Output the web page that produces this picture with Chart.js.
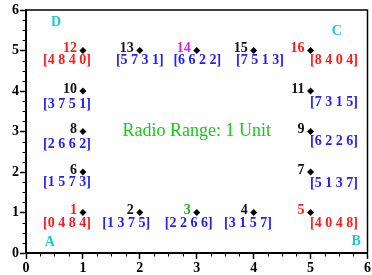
<!DOCTYPE html>
<html>
<head>
<meta charset="utf-8">
<script src="https://cdn.jsdelivr.net/npm/chart.js@4.4.1/dist/chart.umd.min.js"></script>
<style>
    html, body { margin: 0; padding: 0; background: #fff; }
    #wrap { width: 372px; height: 275px; }
</style>
</head>
<body>
<div id="wrap"><canvas id="nodeChart"></canvas></div>
<script>
// node grid positions
const nodeX = [1, 2, 3, 4, 5, 1, 5, 1, 5, 1, 5, 1, 2, 3, 4, 5];
const nodeY = [1, 1, 1, 1, 1, 2, 2, 3, 3, 4, 4, 5, 5, 5, 5, 5];
const nodeIds = ['1', '2', '3', '4', '5', '6', '7', '8', '9', '10', '11', '12', '13', '14', '15', '16'];
const nodeCodes = ['[0 4 8 4]', '[1 3 7 5]', '[2 2 6 6]', '[3 1 5 7]', '[4 0 4 8]', '[1 5 7 3]', '[5 1 3 7]', '[2 6 6 2]',
    '[6 2 2 6]', '[3 7 5 1]', '[7 3 1 5]', '[4 8 4 0]', '[5 7 3 1]', '[6 6 2 2]', '[7 5 1 3]', '[8 4 0 4]'];
// where the code text sits (axis units, like text(x,y))
const codeX = [0.72, 1.76, 2.86, 3.90, 5.41, 0.72, 5.41, 0.72, 5.41, 0.72, 5.41, 0.72, 2.00, 3.01, 4.11, 5.41];
const codeY = [0.73, 0.73, 0.73, 0.73, 0.73, 1.74, 1.72, 2.69, 2.76, 3.67, 3.73, 4.75, 4.75, 4.75, 4.75, 4.75];
const cornerNames = ['A', 'B', 'C', 'D'];
const cornerX = [0.42, 5.80, 5.46, 0.53];
const cornerY = [0.26, 0.28, 5.47, 5.69];
const axisTicks = [0, 1, 2, 3, 4, 5, 6];
const rangeText = 'Radio Range: 1 Unit';

const RED = '#ff1a1a', BLUE = '#2020ff', CYAN = '#1ccccc';
const idColor = (i) => {
    const id = nodeIds[i];
    if (id == '1' || id == '5' || id == '12' || id == '16') return RED;
    if (id == '3') return '#22aa22';
    if (id == '14') return '#e020e0';
    return '#111';
}
const codeColor = (i) => {
    const id = nodeIds[i];
    if (id == '1' || id == '5' || id == '12' || id == '16') return RED;
    return BLUE;
}

const serif = '"Liberation Serif", "Times New Roman", serif';

// box, minor ticks and all the text
const decoPlugin = {
    id: 'deco',
    beforeDatasetsDraw(chart) {
        const { ctx, chartArea: a } = chart;
        ctx.save();
        ctx.strokeStyle = '#000';
        ctx.lineWidth = 1.5;
        ctx.beginPath();
        ctx.moveTo(a.left, a.top);
        ctx.lineTo(a.right, a.top);
        ctx.lineTo(a.right, a.bottom);
        ctx.stroke();

        // minor ticks every 0.25
        const xs = chart.scales.x, ys = chart.scales.y;
        ctx.lineWidth = 1;
        ctx.beginPath();
        for (let v = 0.25; v < 6; v += 0.25) {
            if (Number.isInteger(v)) continue;
            const px = Math.round(xs.getPixelForValue(v)) + 0.5;
            ctx.moveTo(px, a.bottom);
            ctx.lineTo(px, a.bottom + 3.5);
            const py = Math.round(ys.getPixelForValue(v)) + 0.5;
            ctx.moveTo(a.left, py);
            ctx.lineTo(a.left - 3.5, py);
        }
        ctx.stroke();
        ctx.restore();
    },
    afterDatasetsDraw(chart) {
        const { ctx } = chart;
        const xs = chart.scales.x, ys = chart.scales.y;
        ctx.save();
        ctx.textBaseline = 'middle';

        // node numbers
        ctx.font = 'bold 14px ' + serif;
        ctx.textAlign = 'right';
        nodeIds.forEach((id, i) => {
            ctx.fillStyle = idColor(i);
            ctx.fillText(id, xs.getPixelForValue(nodeX[i]) - 6, ys.getPixelForValue(nodeY[i]) - 2);
        });

        // codes
        ctx.font = 'bold 14px ' + serif;
        ctx.textAlign = 'center';
        nodeCodes.forEach((c, i) => {
            ctx.fillStyle = codeColor(i);
            ctx.fillText(c, xs.getPixelForValue(codeX[i]), ys.getPixelForValue(codeY[i]));
        });

        // corners
        ctx.font = 'bold 14px ' + serif;
        ctx.fillStyle = CYAN;
        cornerNames.forEach((n, i) => {
            ctx.fillText(n, xs.getPixelForValue(cornerX[i]), ys.getPixelForValue(cornerY[i]));
        });

        ctx.font = '18px ' + serif;
        ctx.fillStyle = '#11cc11';
        ctx.fillText(rangeText, xs.getPixelForValue(3), ys.getPixelForValue(3));
        ctx.restore();
    }
};

const points = nodeX.map((x, i) => ({ x: x, y: nodeY[i] }));

const axisOpts = (pos) => ({
    type: 'linear',
    position: pos,
    min: 0,
    max: 6,
    afterBuildTicks: (scale) => { scale.ticks = axisTicks.map(v => ({ value: v })); },
    afterFit: (scale) => {
        if (pos == 'left') scale.width = 26;
        else scale.height = 22;
    },
    grid: { drawOnChartArea: false, drawTicks: true, tickLength: 6, tickWidth: 1.5, tickColor: '#000' },
    border: { display: true, color: '#000', width: 2 },
    ticks: {
        color: '#000',
        padding: 1,
        font: { family: serif, size: 14, weight: 'bold' }
    }
});

new Chart(document.getElementById('nodeChart'), {
    type: 'scatter',
    data: {
        datasets: [{
            data: points,
            pointStyle: 'rectRot',
            pointRadius: 3.5,
            backgroundColor: '#000',
            borderColor: '#000',
            borderWidth: 0
        }]
    },
    options: {
        responsive: true,
        maintainAspectRatio: false,
        animation: false,
        layout: { padding: { top: 10, right: 1, left: 0, bottom: 0 } },
        plugins: { legend: { display: false }, tooltip: { enabled: false } },
        scales: {
            x: axisOpts('bottom'),
            y: axisOpts('left')
        }
    },
    plugins: [decoPlugin]
});
</script>
</body>
</html>
